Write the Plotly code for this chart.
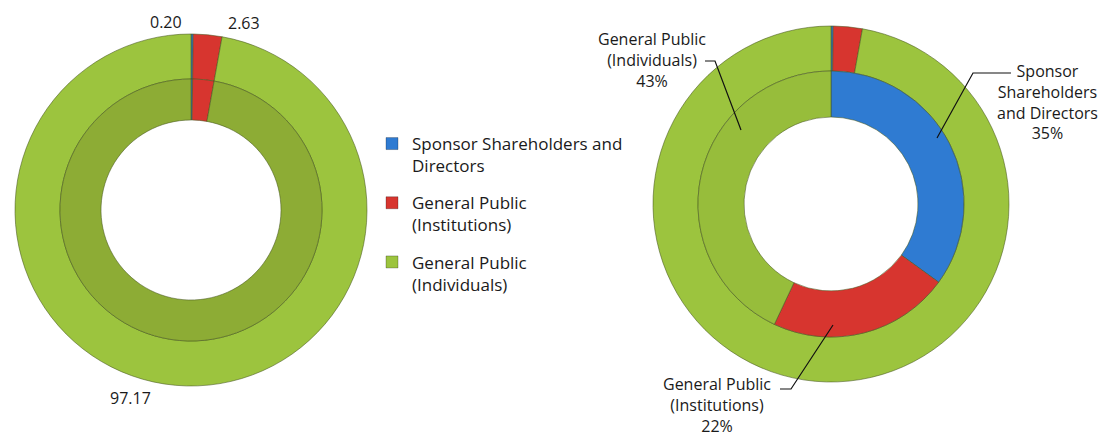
import plotly.graph_objects as go

# ---------------- data ----------------
categories = ["Sponsor Shareholders and Directors",
              "General Public (Institutions)",
              "General Public (Individuals)"]
legend_labels = ["Sponsor Shareholders and<br>Directors",
                 "General Public<br>(Institutions)",
                 "General Public<br>(Individuals)"]
label_names_right = ["Sponsor<br>Shareholders<br>and Directors",
                     "General Public<br>(Institutions)",
                     "General Public<br>(Individuals)"]
left_outer_values = [0.20, 2.63, 97.17]
left_inner_values = [0.20, 2.63, 97.17]
right_outer_values = [0.20, 2.63, 97.17]
right_inner_values = [35, 22, 43]

# ---------------- styles ----------------
PAGE_OFF = 8                      # browser body margin
W, H = 1116 - PAGE_OFF, 440 - PAGE_OFF
BLUE = "#2f7bd2"
RED = "#d7352f"
GREEN = "#9cc43e"
GREEN_DARK = "#8dac35"
GREEN_IN = "#97bd3b"
EDGE = "rgba(70,85,30,0.55)"
FONT = "Open Sans"
TXT = "#1a1a1a"


def fx(x):
    return (x - PAGE_OFF) / W


def fy(y):
    return 1 - (y - PAGE_OFF) / H


def dom(cx, cy, r):
    return dict(x=[fx(cx - r), fx(cx + r)], y=[fy(cy + r), fy(cy - r)])


fig = go.Figure()

# ring geometry (page pixels)
L_C, L_R_OUT, L_R_MID, L_R_HOLE = (191, 210), 176, 131, 90
R_C, R_R_OUT, R_R_MID, R_R_HOLE = (831, 204), 178, 133, 87


def ring(values, colors, center, r, r_hole):
    return go.Pie(values=values, labels=categories, domain=dom(center[0], center[1], r),
                  hole=r_hole / r, sort=False, direction="clockwise", rotation=0,
                  textinfo="none", showlegend=False,
                  marker=dict(colors=colors, line=dict(color=EDGE, width=1)),
                  hovertemplate="%{label}: %{value}<extra></extra>")


fig.add_trace(ring(left_outer_values, [BLUE, RED, GREEN], L_C, L_R_OUT, L_R_MID))
fig.add_trace(ring(left_inner_values, [BLUE, RED, GREEN_DARK], L_C, L_R_MID, L_R_HOLE))
fig.add_trace(ring(right_outer_values, [BLUE, RED, GREEN], R_C, R_R_OUT, R_R_MID))
fig.add_trace(ring(right_inner_values, [BLUE, RED, GREEN_IN], R_C, R_R_MID, R_R_HOLE))

# legend entries
for i, (lab, col) in enumerate(zip(legend_labels, [BLUE, RED, GREEN])):
    fig.add_trace(go.Scatter(x=[None], y=[None], mode="markers", name=lab,
                             legendgroup=f"g{i}",
                             marker=dict(symbol="square", size=12, color=col,
                                         line=dict(color="rgba(0,0,0,0.25)", width=1))))

annotations = []
# left chart value labels
left_label_pos = [(166, 22), (244, 23), (130, 398)]
for v, (x, y) in zip(left_outer_values, left_label_pos):
    annotations.append(dict(x=fx(x), y=fy(y), xref="paper", yref="paper", text=f"{v:.2f}",
                            showarrow=False, xanchor="center", yanchor="middle",
                            font=dict(family=FONT, size=16, color=TXT)))

# right chart category labels: (center x, anchor y, yanchor)
right_label_pos = [(1047, 102, "middle"), (717, 439, "bottom"), (652, 60, "middle")]
for name, v, (x, y, ya) in zip(label_names_right, right_inner_values, right_label_pos):
    annotations.append(dict(x=fx(x), y=fy(y), xref="paper", yref="paper",
                            text=f"{name}<br>{v}%", showarrow=False,
                            xanchor="center", yanchor=ya, align="center",
                            font=dict(family=FONT, size=16, color=TXT)))

# leader lines (page pixels)
leaders = [
    [(1011, 73), (973, 73), (937, 138)],
    [(780, 389), (791, 389), (833, 325)],
    [(705, 61), (715, 61), (741, 130)],
]
shapes = []
for pts in leaders:
    path = "M " + " L ".join(f"{fx(a):.5f},{fy(b):.5f}" for a, b in pts)
    shapes.append(dict(type="path", xref="paper", yref="paper", path=path,
                       line=dict(color="#111111", width=1.2)))

fig.update_layout(
    width=W, height=H,
    margin=dict(l=0, r=0, t=0, b=0),
    paper_bgcolor="white", plot_bgcolor="white",
    xaxis=dict(visible=False), yaxis=dict(visible=False),
    annotations=annotations, shapes=shapes,
    legend=dict(x=fx(372), y=fy(126), xanchor="left", yanchor="top",
                font=dict(family=FONT, size=17, color=TXT), valign="top",
                tracegroupgap=12, bgcolor="rgba(0,0,0,0)"),
    showlegend=True,
)

fig.write_html("out.html")
